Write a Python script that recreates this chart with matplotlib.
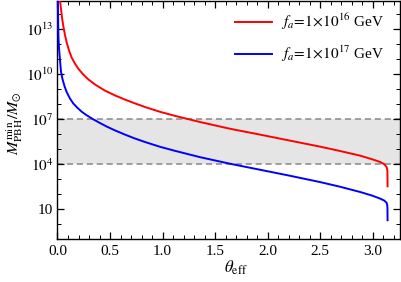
import matplotlib
matplotlib.use("Agg")
import matplotlib.pyplot as plt
import numpy as np

# ---- data (theta_eff, log10 M_PBH^min / M_sun) ----
red_theta = [0.019, 0.0238, 0.0333, 0.0429, 0.0552, 0.0714, 0.0876, 0.110, 0.135, 0.167,
             0.198, 0.243, 0.293, 0.357, 0.452, 0.548, 0.643, 0.738, 0.833, 0.976,
             1.119, 1.357, 1.643, 1.929, 2.214, 2.500, 2.690, 2.881, 2.995, 3.071,
             3.110, 3.133, 3.139, 3.1405, 3.1416]
red_logM = [15.25, 14.91, 14.31, 13.75, 13.18, 12.58, 12.08, 11.55, 11.08, 10.67,
            10.34, 9.97, 9.63, 9.29, 8.88, 8.56, 8.28, 8.03, 7.79, 7.47,
            7.20, 6.79, 6.34, 5.95, 5.55, 5.15, 4.86, 4.55, 4.31, 4.13,
            3.98, 3.79, 3.61, 3.38, 2.51]

blue_theta = [0.0030, 0.0038, 0.0048, 0.0067, 0.0095, 0.0143, 0.0238, 0.0333, 0.0476, 0.0667,
              0.0876, 0.119, 0.150, 0.186, 0.230, 0.271, 0.338, 0.405, 0.471, 0.548,
              0.643, 0.738, 0.833, 0.976, 1.119, 1.357, 1.643, 1.929, 2.214, 2.500,
              2.690, 2.881, 2.995, 3.071, 3.110, 3.133, 3.138, 3.1405, 3.1416]
blue_logM = [15.40, 14.91, 14.25, 13.25, 12.38, 11.71, 10.91, 10.15, 9.65, 9.18,
             8.78, 8.35, 8.03, 7.76, 7.48, 7.27, 6.98, 6.72, 6.48, 6.23,
             5.95, 5.69, 5.46, 5.14, 4.87, 4.45, 4.01, 3.61, 3.21, 2.79,
             2.48, 2.13, 1.89, 1.69, 1.56, 1.41, 1.28, 1.08, 0.25]

band_low = 1e4
band_high = 1e7

labels = [r"$f_a\!=\!1\!\times\!10^{16}$ GeV", r"$f_a\!=\!1\!\times\!10^{17}$ GeV"]
xticks = [0.0, 0.5, 1.0, 1.5, 2.0, 2.5, 3.0]
yticks_major = [1e1, 1e4, 1e7, 1e10, 1e13]
ytick_labels = ["10", r"$10^{4}$", r"$10^{7}$", r"$10^{10}$", r"$10^{13}$"]

plt.rcParams['font.family'] = ['Liberation Serif', 'DejaVu Serif']
plt.rcParams['mathtext.fontset'] = 'stix'

fig = plt.figure(figsize=(4.02, 2.82), dpi=100)
ax = fig.add_axes([57.5/402, 1 - 239/282, (400-57.5)/402, (239-1)/282])

ax.axhspan(band_low, band_high, color='#e5e5e5', zorder=0, lw=0)
for yv in (band_low, band_high):
    ax.axhline(yv, color='#888888', lw=1.1, ls=(0, (4, 2.5)), zorder=1)

ax.plot(red_theta, 10**np.array(red_logM), color='#ff0000', lw=1.4, label=labels[0], zorder=3)
ax.plot(blue_theta, 10**np.array(blue_logM), color='#0000ff', lw=1.4, label=labels[1], zorder=3)

ax.set_yscale('log')
ax.set_xlim(0, 3.26)
ax.set_ylim(10**-1, 10**14.85)

ax.set_xticks(xticks)
ax.set_xticklabels([f"{t:.1f}" for t in xticks])
ax.set_xticks(np.arange(0, 3.26, 0.1), minor=True)
ax.set_yticks(yticks_major)
ax.set_yticklabels(ytick_labels)
ax.set_yticks([10.0**k for k in range(-1, 15)], minor=True)
ax.yaxis.set_minor_formatter(matplotlib.ticker.NullFormatter())

ax.tick_params(which='both', direction='in', top=True, right=True, labelsize=11, color='black')
ax.tick_params(which='major', length=5, width=0.9, pad=3)
ax.tick_params(axis='x', which='major', pad=4)
ax.tick_params(which='minor', length=3, width=0.7)
for s in ax.spines.values():
    s.set_linewidth(1.0)

ax.set_xlabel(r"$\theta_{\rm eff}$", fontsize=12, va='center')
ax.xaxis.set_label_coords(0.52, -0.122)
ax.set_ylabel(r"$M_{\rm PBH}^{\rm min}/M_{\odot}$", fontsize=11.5, va='center')
ax.yaxis.set_label_coords(-0.125, 0.487)

ax.legend(loc='upper right', frameon=False, fontsize=11, handlelength=2.4,
          labelspacing=0.75, handletextpad=0.6, borderaxespad=0.3,
          bbox_to_anchor=(0.985, 1.0))

fig.savefig("out.png", dpi=100)
